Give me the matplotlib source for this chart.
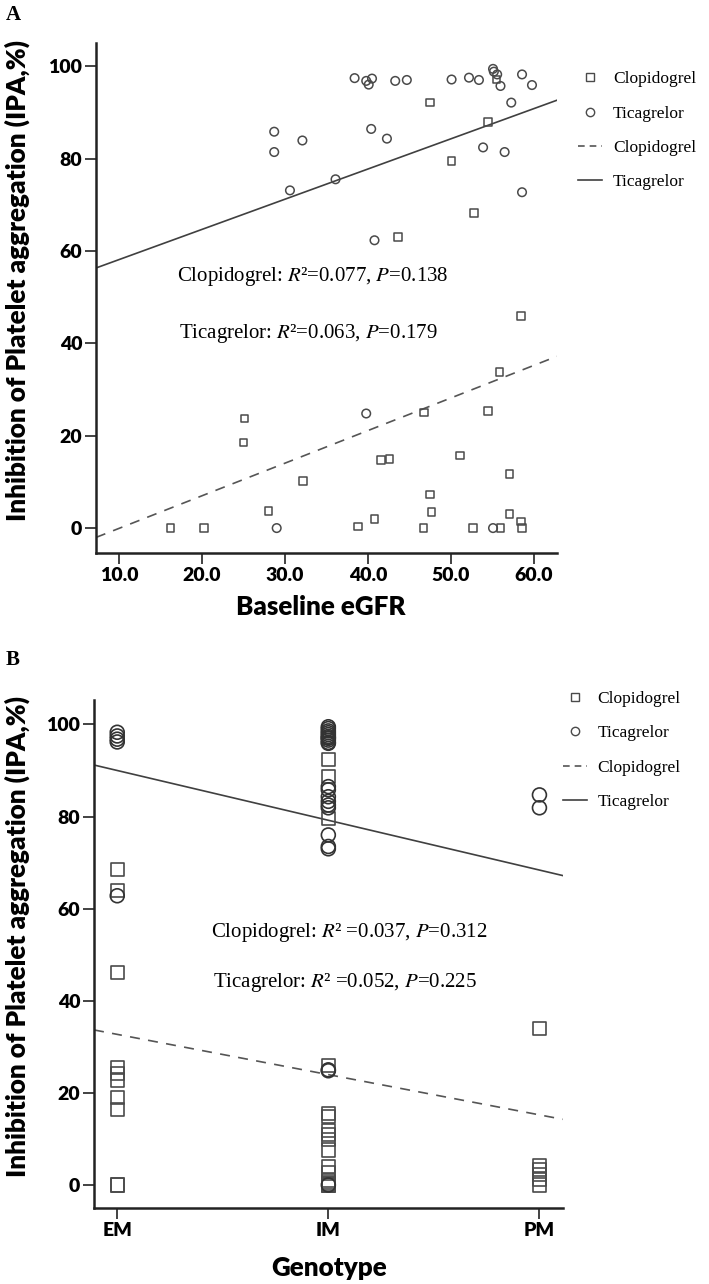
import matplotlib
matplotlib.use("Agg")
import matplotlib.pyplot as plt
from matplotlib.lines import Line2D
import numpy as np

plt.rcParams['mathtext.fontset'] = 'stix'

# ---- Panel A: baseline eGFR vs IPA ----
clop_egfr = [47.5, 54.5, 50.1, 52.8, 43.6, 55.5, 25.1, 25.0, 32.2, 28.0, 16.2, 20.2,
             38.8, 40.8, 58.5, 55.9, 46.8, 54.5, 41.6, 42.6, 51.1, 57.1, 47.5, 47.7,
             46.7, 52.7, 56.0, 57.1, 58.5, 58.6]
clop_ipa = [92.1, 87.9, 79.5, 68.2, 63.0, 97.1, 23.7, 18.5, 10.2, 3.7, 0.0, 0.0,
            0.3, 1.9, 45.9, 33.8, 25.0, 25.4, 14.7, 15.0, 15.7, 11.7, 7.3, 3.5,
            0.0, 0.0, 0.0, 3.1, 1.4, 0.0]
tica_egfr = [38.4, 39.8, 40.1, 40.5, 28.7, 28.7, 32.1, 40.4, 30.6, 36.1, 40.8,
             43.3, 44.7, 50.1, 52.2, 53.4, 55.1, 55.2, 55.6, 56.0, 58.6, 59.8,
             57.3, 42.3, 53.9, 56.5, 58.6, 39.8, 29.0, 55.1]
tica_ipa = [97.4, 96.8, 96.0, 97.3, 85.8, 81.4, 83.9, 86.4, 73.1, 75.5, 62.3,
            96.8, 97.0, 97.1, 97.5, 97.0, 99.4, 98.8, 98.2, 95.7, 98.2, 95.9,
            92.1, 84.3, 82.4, 81.4, 72.7, 24.8, 0.0, 0.0]
# fitted lines (slope, intercept)
fit_a_clop = (0.705, -7.1)
fit_a_tica = (0.653, 51.6)

# ---- Panel B: genotype vs IPA ----
genotypes = ["EM", "IM", "PM"]
clop_geno = [0] * 10 + [1] * 18 + [2] * 6
clop_ipa_b = [68.5, 63.9, 46.1, 25.5, 24.2, 22.8, 19.0, 16.3, 0.0, 0.0,
              92.4, 88.7, 79.6, 26.0, 15.6, 14.8, 11.9, 10.9, 9.8, 7.6, 4.0, 2.6,
              0.5, 0.0, 0.0, 0.2, 1.0, 0.0,
              33.9, 4.3, 3.3, 2.2, 1.1, 0.0]
tica_geno = [0] * 5 + [1] * 23 + [2] * 2
tica_ipa_b = [98.3, 97.5, 96.8, 96.2, 62.8,
              99.5, 99.1, 98.6, 98.2, 97.8, 97.4, 97.0, 96.6, 96.1, 86.5, 85.8,
              84.3, 82.5, 81.9, 76.0, 73.5, 73.0, 25.0, 24.8, 0.0, 83.3, 97.1, 95.9,
              84.7, 81.9]
fit_b_clop = (-8.74, 32.7)
fit_b_tica = (-10.81, 90.0)

SANS = "Lato"
SERIF = "Liberation Serif"
EDGE = "#4a4a4a"

fig = plt.figure(figsize=(7.09, 12.84), dpi=100)
ax_a = fig.add_axes([0.1354, 0.5693, 0.650, 0.3972])
ax_b = fig.add_axes([0.1326, 0.0592, 0.661, 0.3956])


def style_axes(ax, ylab_x):
    for s in ["top", "right"]:
        ax.spines[s].set_visible(False)
    for s in ["left", "bottom"]:
        ax.spines[s].set_linewidth(1.8)
        ax.spines[s].set_color("#222222")
    ax.tick_params(direction="out", length=8, width=1.2, color="#222222", pad=2)
    for lab in ax.get_xticklabels() + ax.get_yticklabels():
        lab.set_fontfamily(SANS)
        lab.set_fontweight("heavy")
        lab.set_fontsize(14)
    ax.set_ylabel("Inhibition of Platelet aggregation (IPA,%)", fontfamily=SANS,
                  fontweight="heavy", fontsize=18.8)
    ax.yaxis.set_label_coords(ylab_x, 0.535)


def add_legend(ax, anchor):
    handles = [
        Line2D([], [], ls="none", marker="s", mfc="none", mec=EDGE, ms=6),
        Line2D([], [], ls="none", marker="o", mfc="none", mec=EDGE, ms=6),
        Line2D([], [], ls="--", color="#555555", lw=1.2, dashes=(4, 3)),
        Line2D([], [], ls="-", color="#404040", lw=1.2),
    ]
    labels = ["Clopidogrel", "Ticagrelor", "Clopidogrel", "Ticagrelor"]
    ax.legend(handles, labels, loc="upper left", bbox_to_anchor=anchor,
              frameon=False, prop={"family": SERIF, "size": 12.5},
              borderpad=0, borderaxespad=0,
              handlelength=1.4, handletextpad=0.6, labelspacing=1.05)


def fit_line(ax, fit, **kw):
    xs = np.array(ax.get_xlim())
    ax.plot(xs, fit[0] * xs + fit[1], **kw)


# Panel A
ax = ax_a
ax.set_xlim(7.2, 62.8)
ax.set_ylim(-5.4, 105)
ax.scatter(clop_egfr, clop_ipa, marker="s", s=30, facecolors="none",
           edgecolors=EDGE, linewidths=1.1, zorder=3)
ax.scatter(tica_egfr, tica_ipa, marker="o", s=38, facecolors="none",
           edgecolors=EDGE, linewidths=1.1, zorder=3)
fit_line(ax, fit_a_tica, color="#404040", lw=1.2)
fit_line(ax, fit_a_clop, color="#555555", lw=1.2, ls="--", dashes=(6, 5))
ax.set_xticks([10, 20, 30, 40, 50, 60])
ax.set_xticklabels(["10.0", "20.0", "30.0", "40.0", "50.0", "60.0"])
ax.set_yticks([0, 20, 40, 60, 80, 100])
style_axes(ax, -0.143)
ax.set_xlabel("Baseline eGFR", fontfamily=SANS, fontweight="heavy", fontsize=18.7)
ax.xaxis.set_label_coords(0.488, -0.082)
ax.text(0.176, 0.543, "Clopidogrel: $R$²=0.077, $P$=0.138", transform=ax.transAxes,
        fontfamily=SERIF, fontsize=15, va="center")
ax.text(0.180, 0.431, "Ticagrelor: $R$²=0.063, $P$=0.179", transform=ax.transAxes,
        fontfamily=SERIF, fontsize=15, va="center")
add_legend(ax, (1.046, 0.945))

# Panel B
ax = ax_b
ax.set_xlim(-0.11, 2.11)
ax.set_ylim(-5.0, 105.3)
ax.scatter(clop_geno, clop_ipa_b, marker="s", s=90, facecolors="none",
           edgecolors=EDGE, linewidths=1.2, zorder=3)
ax.scatter(tica_geno, tica_ipa_b, marker="o", s=100, facecolors="none",
           edgecolors="#333333", linewidths=1.2, zorder=3)
fit_line(ax, fit_b_tica, color="#404040", lw=1.2)
fit_line(ax, fit_b_clop, color="#555555", lw=1.2, ls="--", dashes=(6, 5))
ax.set_xticks([0, 1, 2])
ax.set_xticklabels(genotypes)
ax.set_yticks([0, 20, 40, 60, 80, 100])
style_axes(ax, -0.136)
ax.set_xlabel("Genotype", fontfamily=SANS, fontweight="heavy", fontsize=18.7)
ax.xaxis.set_label_coords(0.501, -0.094)
ax.text(0.249, 0.542, "Clopidogrel: $R$² =0.037, $P$=0.312", transform=ax.transAxes,
        fontfamily=SERIF, fontsize=15, va="center")
ax.text(0.254, 0.444, "Ticagrelor: $R$² =0.052, $P$=0.225", transform=ax.transAxes,
        fontfamily=SERIF, fontsize=15, va="center")
add_legend(ax, (1.0, 1.018))

fig.text(0.008, 0.988, "A", fontfamily=SERIF, fontweight="bold", fontsize=15, va="center")
fig.text(0.008, 0.486, "B", fontfamily=SERIF, fontweight="bold", fontsize=15, va="center")

fig.savefig("out.png", dpi=100)
